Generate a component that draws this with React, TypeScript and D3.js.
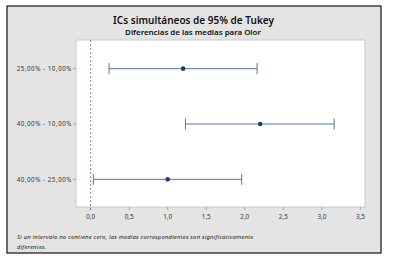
import React from "react";
import * as d3 from "d3";

const comparisons = ["25,00% - 10,00%", "40,00% - 10,00%", "40,00% - 25,00%"];
const centers = [1.2, 2.2, 1.0];
const lowers = [0.24, 1.23, 0.035];
const uppers = [2.16, 3.16, 1.96];
const xTicks = [0, 0.5, 1.0, 1.5, 2.0, 2.5, 3.0, 3.5];
const xTickLabels = ["0,0", "0,5", "1,0", "1,5", "2,0", "2,5", "3,0", "3,5"];
const title = "ICs simultáneos de 95% de Tukey";
const subtitle = "Diferencias de las medias para Olor";
const note1 = "Si un intervalo no contiene cero, las medias correspondientes son significativamente";
const note2 = "diferentes.";

export default function App() {
  const W = 393, H = 260;
  const plot = { left: 76, top: 40, right: 365, bottom: 207 };
  const x = d3.scaleLinear().domain([-0.19, 3.56]).range([plot.left, plot.right]);
  const y = d3.scalePoint<string>().domain(comparisons).range([41, 207]).padding(0.5);
  const font = "'Noto Sans', 'Open Sans', sans-serif";
  const lineColor = "#56769b";
  const dotColor = "#1d3d6e";
  const cap = 5.5;

  return (
    <svg width={W} height={H} style={{ position: "fixed", left: 0, top: 0, background: "#fff" }} fontFamily={font}>
      <rect x={7} y={6} width={374} height={247} fill="#e4e4e4" stroke="#111" strokeWidth={1.2} />
      <text x={193.5} y={24} textAnchor="middle" fontSize={10} fontWeight={600} fill="#111">{title}</text>
      <text x={193} y={34.5} textAnchor="middle" fontSize={7.9} fontWeight={600} fill="#111">{subtitle}</text>
      <rect x={plot.left} y={plot.top} width={plot.right - plot.left} height={plot.bottom - plot.top} fill="#fff" stroke="#c9c9c9" strokeWidth={1} />
      {xTicks.map((t, i) => (
        <g key={t}>
          <line x1={x(t)} x2={x(t)} y1={plot.bottom} y2={plot.bottom + 3} stroke="#9a9a9a" strokeWidth={0.8} />
          <text x={x(t)} y={219} textAnchor="middle" fontSize={6.3} fill="#333">{xTickLabels[i]}</text>
        </g>
      ))}
      {comparisons.map((c) => (
        <g key={c}>
          <line x1={plot.left - 3} x2={plot.left} y1={y(c)} y2={y(c)} stroke="#9a9a9a" strokeWidth={0.8} />
          <text x={72} y={(y(c) as number) + 2.3} textAnchor="end" fontSize={6.2} letterSpacing={0.55} fill="#333">{c}</text>
        </g>
      ))}
      <line x1={x(0)} x2={x(0)} y1={plot.top} y2={plot.bottom + 3} stroke="#6f9090" strokeWidth={1} strokeDasharray="2,2" />
      {comparisons.map((c, i) => {
        const cy = y(c) as number;
        return (
          <g key={c}>
            <line x1={x(lowers[i])} x2={x(uppers[i])} y1={cy} y2={cy} stroke={lineColor} strokeWidth={1} />
            <line x1={x(lowers[i])} x2={x(lowers[i])} y1={cy - cap} y2={cy + cap} stroke={lineColor} strokeWidth={1} />
            <line x1={x(uppers[i])} x2={x(uppers[i])} y1={cy - cap} y2={cy + cap} stroke={lineColor} strokeWidth={1} />
            <circle cx={x(centers[i])} cy={cy} r={2.3} fill={dotColor} />
          </g>
        );
      })}
      <text x={17} y={239} fontSize={5.9} letterSpacing={0.2} fontStyle="italic" fill="#222">{note1}</text>
      <text x={17} y={248.5} fontSize={5.9} letterSpacing={0.2} fontStyle="italic" fill="#222">{note2}</text>
    </svg>
  );
}
